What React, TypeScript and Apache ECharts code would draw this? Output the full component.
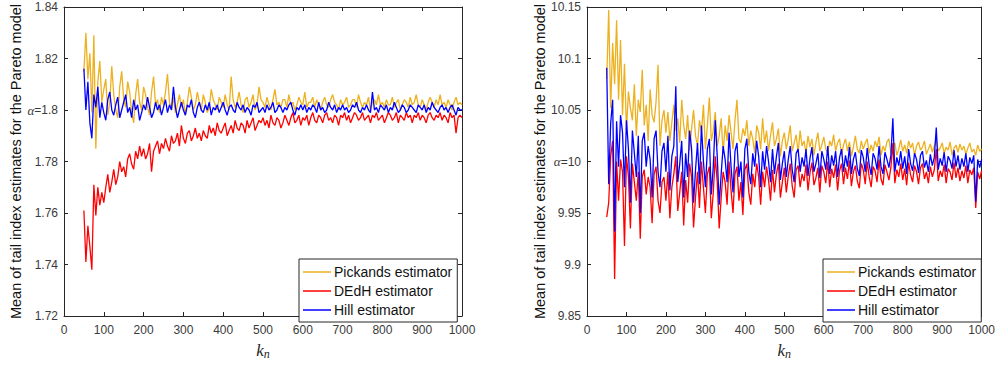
import React, { useEffect, useRef } from "react";
import * as echarts from "echarts";

// k_n grid: 50, 55, ..., 1000
const K_START = 50;
const K_STEP = 5;

// Left panel (alpha = 1.8)
const leftPickands = [
  1.815, 1.830, 1.812, 1.822, 1.799, 1.829, 1.785, 1.811, 1.819, 1.803,
  1.808, 1.812, 1.798, 1.803, 1.817, 1.806, 1.800, 1.797, 1.809, 1.815,
  1.804, 1.801, 1.811, 1.807, 1.799, 1.795, 1.806, 1.812, 1.803, 1.800,
  1.809, 1.806, 1.801, 1.798, 1.807, 1.813, 1.802, 1.804, 1.799, 1.805,
  1.802, 1.807, 1.814, 1.803, 1.800, 1.805, 1.799, 1.802, 1.806, 1.801,
  1.804, 1.798, 1.803, 1.809, 1.805, 1.800, 1.802, 1.807, 1.803, 1.800,
  1.806, 1.803, 1.799, 1.801, 1.808, 1.804, 1.802, 1.800, 1.805, 1.803,
  1.801, 1.806, 1.802, 1.800, 1.813, 1.804, 1.801, 1.803, 1.807, 1.802,
  1.799, 1.804, 1.805, 1.801, 1.803, 1.806, 1.800, 1.802, 1.809, 1.804,
  1.803, 1.801, 1.805, 1.802, 1.800, 1.804, 1.808, 1.802, 1.803, 1.801,
  1.804, 1.804, 1.801, 1.806, 1.802, 1.803, 1.800, 1.802, 1.805, 1.803,
  1.802, 1.807, 1.801, 1.803, 1.803, 1.805, 1.801, 1.804, 1.802, 1.800,
  1.803, 1.805, 1.802, 1.801, 1.804, 1.806, 1.803, 1.802, 1.800, 1.804,
  1.802, 1.803, 1.805, 1.801, 1.802, 1.804, 1.804, 1.801, 1.806, 1.803,
  1.801, 1.803, 1.802, 1.805, 1.800, 1.803, 1.804, 1.802, 1.806, 1.802,
  1.803, 1.801, 1.804, 1.802, 1.802, 1.805, 1.801, 1.803, 1.804, 1.800,
  1.802, 1.804, 1.803, 1.801, 1.805, 1.802, 1.803, 1.806, 1.802, 1.801,
  1.804, 1.802, 1.800, 1.803, 1.805, 1.803, 1.801, 1.804, 1.802, 1.806,
  1.802, 1.803, 1.801, 1.804, 1.802, 1.800, 1.803, 1.805, 1.802, 1.803,
  1.802,
];

const leftDEdH = [
  1.761, 1.741, 1.755, 1.747, 1.738, 1.771, 1.759, 1.770, 1.763, 1.768,
  1.764, 1.770, 1.775, 1.768, 1.772, 1.777, 1.771, 1.774, 1.780, 1.776,
  1.778, 1.774, 1.781, 1.783, 1.779, 1.777, 1.784, 1.781, 1.786, 1.782,
  1.785, 1.781, 1.783, 1.787, 1.776, 1.784, 1.786, 1.788, 1.783, 1.787,
  1.785, 1.789, 1.786, 1.784, 1.790, 1.787, 1.788, 1.791, 1.786, 1.794,
  1.789, 1.787, 1.791, 1.792, 1.788, 1.790, 1.793, 1.789, 1.791, 1.788,
  1.792, 1.790, 1.789, 1.794, 1.791, 1.793, 1.790, 1.795, 1.792, 1.791,
  1.793, 1.795, 1.790, 1.792, 1.794, 1.791, 1.796, 1.793, 1.792, 1.795,
  1.794, 1.791, 1.796, 1.793, 1.795, 1.797, 1.792, 1.794, 1.796, 1.795,
  1.797, 1.794, 1.796, 1.793, 1.798, 1.795, 1.794, 1.797, 1.796, 1.793,
  1.795, 1.798, 1.796, 1.794, 1.797, 1.799, 1.795, 1.796, 1.798, 1.794,
  1.797, 1.796, 1.798, 1.794, 1.797, 1.799, 1.796, 1.795, 1.798, 1.797,
  1.795, 1.798, 1.799, 1.796, 1.797, 1.795, 1.798, 1.797, 1.794, 1.798,
  1.797, 1.799, 1.796, 1.798, 1.795, 1.797, 1.799, 1.798, 1.796, 1.797,
  1.799, 1.796, 1.797, 1.798, 1.795, 1.798, 1.797, 1.799, 1.796, 1.797,
  1.798, 1.795, 1.797, 1.799, 1.798, 1.796, 1.797, 1.799, 1.795, 1.798,
  1.797, 1.796, 1.799, 1.797, 1.798, 1.795, 1.798, 1.797, 1.799, 1.796,
  1.798, 1.797, 1.795, 1.798, 1.799, 1.797, 1.796, 1.798, 1.797, 1.799,
  1.796, 1.798, 1.797, 1.795, 1.799, 1.797, 1.798, 1.791, 1.797, 1.798,
  1.797,
];

const leftHill = [
  1.816, 1.800, 1.811, 1.795, 1.789, 1.806, 1.801, 1.809, 1.797, 1.803,
  1.799, 1.796, 1.804, 1.807, 1.800, 1.798, 1.802, 1.805, 1.797, 1.800,
  1.803, 1.806, 1.799, 1.801, 1.797, 1.804, 1.800, 1.802, 1.796, 1.799,
  1.802, 1.800, 1.805, 1.801, 1.797, 1.799, 1.803, 1.800, 1.802, 1.798,
  1.801, 1.804, 1.799, 1.802, 1.800, 1.809, 1.801, 1.797, 1.800, 1.803,
  1.800, 1.798, 1.802, 1.801, 1.804, 1.799, 1.797, 1.801, 1.803, 1.800,
  1.799, 1.802, 1.800, 1.803, 1.798, 1.801, 1.800, 1.802, 1.799, 1.801,
  1.803, 1.800, 1.798, 1.801, 1.802, 1.800, 1.799, 1.803, 1.801, 1.800,
  1.802, 1.799, 1.801, 1.800, 1.798, 1.802, 1.801, 1.803, 1.799, 1.800,
  1.801, 1.799, 1.802, 1.800, 1.801, 1.803, 1.799, 1.800, 1.802, 1.801,
  1.799, 1.801, 1.800, 1.802, 1.803, 1.800, 1.798, 1.801, 1.800, 1.802,
  1.800, 1.802, 1.799, 1.801, 1.800, 1.802, 1.801, 1.799, 1.803, 1.800,
  1.801, 1.799, 1.800, 1.803, 1.801, 1.800, 1.802, 1.799, 1.801, 1.800,
  1.802, 1.800, 1.801, 1.799, 1.800, 1.802, 1.801, 1.803, 1.800, 1.799,
  1.801, 1.800, 1.802, 1.800, 1.799, 1.807, 1.800, 1.801, 1.799, 1.802,
  1.801, 1.800, 1.802, 1.799, 1.801, 1.800, 1.803, 1.801, 1.799, 1.800,
  1.802, 1.801, 1.799, 1.800, 1.802, 1.801, 1.800, 1.799, 1.802, 1.801,
  1.800, 1.802, 1.799, 1.801, 1.800, 1.803, 1.801, 1.800, 1.799, 1.801,
  1.802, 1.800, 1.801, 1.799, 1.801, 1.802, 1.800, 1.798, 1.801, 1.800,
  1.800,
];

// Right panel (alpha = 10)
const rightPickands = [
  10.080, 10.147, 10.052, 10.115, 10.075, 10.137, 10.060, 10.118, 10.045, 10.095,
  10.030, 10.068, 10.052, 10.040, 10.075, 10.025, 10.060, 10.048, 10.089, 10.035,
  10.055, 10.020, 10.070, 10.045, 10.038, 10.058, 10.094, 10.015, 10.040, 10.050,
  10.028, 10.048, 10.020, 10.038, 10.055, 10.030, 10.042, 10.018, 10.060, 10.035,
  10.022, 10.045, 10.010, 10.032, 10.050, 10.025, 10.015, 10.040, 10.028, 10.055,
  10.012, 10.035, 10.062, 10.020, 10.030, 10.048, 10.015, 10.025, 10.042, 10.008,
  10.035, 10.020, 10.045, 10.028, 10.012, 10.040, 10.060, 10.022, 10.018, 10.032,
  10.025, 10.040, 10.015, 10.030, 10.022, 10.008, 10.035, 10.028, 10.012, 10.042,
  10.018, 10.030, 10.010, 10.025, 10.038, 10.015, 10.022, 10.032, 10.005, 10.020,
  10.028, 10.012, 10.022, 10.035, 10.010, 10.018, 10.026, 10.008, 10.030, 10.015,
  10.020, 10.008, 10.025, 10.014, 10.022, 10.006, 10.018, 10.028, 10.010, 10.016,
  10.024, 10.012, 10.008, 10.020, 10.015, 10.026, 10.010, 10.018, 10.022, 10.006,
  10.016, 10.022, 10.010, 10.019, 10.005, 10.014, 10.025, 10.012, 10.008, 10.020,
  10.012, 10.018, 10.022, 10.008, 10.016, 10.010, 10.020, 10.014, 10.024, 10.006,
  10.015, 10.010, 10.019, 10.022, 10.008, 10.014, 10.018, 10.006, 10.012, 10.021,
  10.010, 10.016, 10.008, 10.020, 10.013, 10.018, 10.006, 10.015, 10.019, 10.011,
  10.014, 10.020, 10.007, 10.012, 10.017, 10.009, 10.015, 10.022, 10.010, 10.013,
  10.018, 10.008, 10.014, 10.011, 10.019, 10.006, 10.013, 10.016, 10.009, 10.017,
  10.011, 10.015, 10.007, 10.013, 10.018, 10.009, 10.012, 10.006, 10.016, 10.010,
  10.012,
];

const rightDEdH = [
  9.946, 9.960, 10.005, 10.020, 9.886, 10.000, 9.962, 10.002, 9.990, 9.918,
  10.005, 9.985, 9.935, 9.998, 9.980, 9.962, 9.990, 9.925, 9.985, 9.992,
  9.968, 9.985, 9.975, 9.940, 9.988, 9.995, 9.962, 9.950, 9.980, 9.985,
  9.962, 9.990, 9.945, 9.975, 9.988, 10.005, 9.952, 9.970, 9.990, 9.938,
  9.982, 9.960, 9.998, 9.985, 9.936, 9.965, 9.990, 9.955, 10.000, 9.975,
  9.950, 9.988, 9.995, 9.945, 9.970, 10.005, 9.980, 9.935, 9.965, 9.990,
  9.980, 9.958, 10.000, 9.972, 9.950, 9.988, 9.995, 9.962, 9.980, 9.948,
  9.992, 9.998, 9.970, 9.958, 9.988, 9.975, 9.998, 9.985, 9.958, 9.990,
  9.975, 9.995, 9.982, 9.962, 9.992, 9.970, 9.988, 9.998, 9.965, 9.980,
  9.994, 9.970, 9.986, 9.998, 9.976, 9.965, 9.992, 9.996, 9.975, 9.988,
  9.981, 9.997, 9.972, 9.989, 9.999, 9.977, 9.984, 9.994, 9.970, 9.996,
  9.990, 9.979, 10.000, 9.975, 9.993, 9.984, 9.997, 9.972, 9.991, 9.998,
  9.978, 9.994, 9.983, 10.001, 9.976, 9.990, 9.996, 9.981, 9.974, 9.998,
  9.992, 9.978, 10.000, 9.985, 9.975, 9.995, 9.991, 9.980, 10.002, 9.983,
  9.977, 9.997, 9.990, 9.982, 9.994, 10.018, 9.979, 9.992, 9.985, 9.998,
  9.982, 9.993, 9.977, 9.999, 9.987, 9.980, 9.996, 9.990, 9.978, 9.994,
  9.998, 9.983, 9.990, 9.979, 9.995, 9.985, 9.992, 10.012, 9.981, 9.991,
  9.985, 9.997, 9.979, 9.993, 9.990, 9.982, 9.999, 9.984, 9.994, 9.981,
  9.991, 9.984, 9.996, 9.979, 9.992, 9.987, 9.994, 9.955, 9.990, 9.983,
  9.991,
];

const rightHill = [
  10.091, 9.978, 10.037, 10.060, 9.932, 10.039, 9.995, 10.045, 10.028, 9.975,
  10.040, 10.012, 9.960, 10.030, 10.008, 9.985, 10.025, 9.950, 10.020, 10.028,
  9.995, 10.015, 10.002, 9.965, 10.022, 10.030, 9.990, 9.975, 10.010, 10.018,
  9.990, 10.025, 9.972, 10.005, 10.015, 10.073, 9.980, 9.998, 10.020, 9.965,
  10.008, 9.985, 10.030, 10.012, 9.960, 9.992, 10.018, 9.978, 10.035, 10.000,
  9.975, 10.012, 10.022, 9.968, 9.995, 10.040, 10.005, 9.958, 9.988, 10.015,
  10.002, 9.980, 10.028, 9.995, 9.970, 10.010, 10.018, 9.985, 10.000, 9.965,
  10.012, 10.022, 9.990, 9.978, 10.008, 9.995, 10.020, 10.005, 9.975, 10.010,
  9.992, 10.015, 10.000, 9.980, 10.012, 9.988, 10.005, 10.018, 9.982, 9.998,
  10.010, 9.985, 10.002, 10.015, 9.992, 9.980, 10.008, 10.012, 9.990, 10.004,
  9.995, 10.012, 9.986, 10.003, 10.014, 9.990, 9.998, 10.008, 9.984, 10.010,
  10.002, 9.992, 10.015, 9.988, 10.006, 9.996, 10.010, 9.985, 10.004, 10.012,
  9.990, 10.006, 9.995, 10.014, 9.988, 10.002, 10.009, 9.993, 9.986, 10.011,
  10.004, 9.990, 10.013, 9.997, 9.987, 10.008, 10.003, 9.992, 10.015, 9.995,
  9.988, 10.009, 10.002, 9.994, 10.006, 10.042, 9.990, 10.004, 9.996, 10.010,
  9.993, 10.005, 9.988, 10.012, 9.998, 9.991, 10.008, 10.002, 9.989, 10.006,
  10.010, 9.994, 10.001, 9.990, 10.007, 9.996, 10.004, 10.033, 9.992, 10.003,
  9.996, 10.009, 9.990, 10.005, 10.001, 9.993, 10.011, 9.995, 10.006, 9.992,
  10.003, 9.995, 10.008, 9.990, 10.004, 9.998, 10.006, 9.961, 10.002, 9.994,
  10.002,
];

const SERIES_NAMES = ["Pickands estimator", "DEdH estimator", "Hill estimator"];
const SERIES_COLORS = ["#EDB120", "#FF0000", "#0000FF"];
const Y_NAME = "Mean of tail index estimates for the Pareto model";

const SANS = "'Liberation Sans', Arial, Helvetica, sans-serif";
const SERIF = "'Liberation Serif', 'DejaVu Serif', serif";
const AXIS_COLOR = "#262626";
const LABEL_COLOR = "#3a3a3a";

function pairs(vals: number[]) {
  return vals.map((v, i) => [K_START + K_STEP * i, v]);
}

function fmtTick(v: number, alpha: number) {
  const r = Math.round(v * 1000) / 1000;
  if (Math.abs(r - alpha) < 1e-9) return "{a|α}=" + String(alpha);
  return String(parseFloat(r.toFixed(2)));
}

export default function App() {
  const ref = useRef<HTMLDivElement>(null);

  useEffect(() => {
    if (!ref.current) return;
    const chart = echarts.init(ref.current, null, { renderer: "svg" });

    const grids = [
      { left: 64, top: 7, width: 398, height: 314 },
      { left: 587, top: 7, width: 398, height: 314 },
    ];
    const yRanges = [
      { min: 1.72, max: 1.84, interval: 0.02, alpha: 1.8 },
      { min: 9.85, max: 10.15, interval: 0.05, alpha: 10 },
    ];
    const data = [
      [leftPickands, leftDEdH, leftHill],
      [rightPickands, rightDEdH, rightHill],
    ];

    const xAxes: any[] = [];
    const yAxes: any[] = [];
    const series: any[] = [];

    grids.forEach((_, g) => {
      const tickCommon = {
        axisLine: { show: true, onZero: false, lineStyle: { color: AXIS_COLOR, width: 1 } },
        axisTick: { show: true, inside: true, length: 4, lineStyle: { color: AXIS_COLOR, width: 1 } },
        splitLine: { show: false },
      };
      xAxes.push({
        type: "value",
        gridIndex: g,
        position: "bottom",
        min: 0,
        max: 1000,
        interval: 100,
        ...tickCommon,
        axisLabel: {
          fontSize: 12,
          color: LABEL_COLOR,
          fontFamily: SANS,
          margin: 8,
          formatter: (v: number) => String(Math.round(v)),
        },
        name: "{k|k}{n|n}",
        nameLocation: "middle",
        nameGap: 24,
        nameTextStyle: {
          rich: {
            k: { fontFamily: SERIF, fontStyle: "italic", fontSize: 17, color: AXIS_COLOR },
            n: { fontFamily: SERIF, fontStyle: "italic", fontSize: 12, color: AXIS_COLOR, padding: [8, 0, 0, 0] },
          },
        },
      });
      xAxes.push({
        type: "value",
        gridIndex: g,
        position: "top",
        min: 0,
        max: 1000,
        interval: 100,
        ...tickCommon,
        axisLabel: { show: false },
      });
      const yr = yRanges[g];
      yAxes.push({
        type: "value",
        gridIndex: g,
        position: "left",
        min: yr.min,
        max: yr.max,
        interval: yr.interval,
        ...tickCommon,
        axisLabel: {
          fontSize: 12,
          color: LABEL_COLOR,
          fontFamily: SANS,
          margin: 6,
          formatter: (v: number) => fmtTick(v, yr.alpha),
          rich: {
            a: { fontFamily: SERIF, fontStyle: "italic", fontSize: 13, color: LABEL_COLOR },
          },
        },
        name: Y_NAME,
        nameLocation: "middle",
        nameRotate: 90,
        nameGap: 40,
        nameTextStyle: { fontSize: 14.5, color: "#111", fontFamily: SANS },
      });
      yAxes.push({
        type: "value",
        gridIndex: g,
        position: "right",
        min: yr.min,
        max: yr.max,
        interval: yr.interval,
        ...tickCommon,
        axisLabel: { show: false },
      });

      data[g].forEach((vals, s) => {
        series.push({
          type: "line",
          name: SERIES_NAMES[s],
          xAxisIndex: g * 2,
          yAxisIndex: g * 2,
          data: pairs(vals),
          symbol: "none",
          showSymbol: false,
          lineStyle: { color: SERIES_COLORS[s], width: 1.3 },
          itemStyle: { color: SERIES_COLORS[s] },
          emphasis: { disabled: true },
          z: 2 + s,
        });
      });
    });

    const legendCommon = {
      orient: "vertical",
      top: 259,
      padding: [6, 5, 5, 4],
      itemGap: 5,
      itemWidth: 28,
      itemHeight: 1.5,
      icon: "rect",
      selectedMode: false,
      borderColor: AXIS_COLOR,
      borderWidth: 1,
      backgroundColor: "#ffffff",
      borderRadius: 0,
      textStyle: { fontSize: 14, lineHeight: 14, color: "#111", fontFamily: SANS, padding: [0, 0, 0, -2] },
      data: SERIES_NAMES.map((n) => ({ name: n })),
    };

    chart.setOption({
      animation: false,
      backgroundColor: "#ffffff",
      grid: grids.map((g) => ({ ...g, containLabel: false })),
      xAxis: xAxes,
      yAxis: yAxes,
      legend: [
        { ...legendCommon, left: 299 },
        { ...legendCommon, left: 823 },
      ],
      series,
    });

    return () => chart.dispose();
  }, []);

  return (
    <div
      ref={ref}
      style={{ position: "absolute", left: 0, top: 0, width: 998, height: 365, background: "#fff" }}
    />
  );
}
